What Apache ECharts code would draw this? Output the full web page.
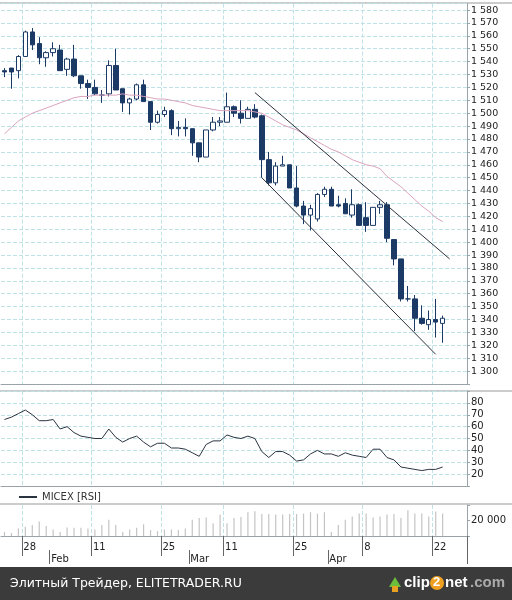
<!DOCTYPE html>
<html><head><meta charset="utf-8">
<script src="https://cdn.jsdelivr.net/npm/echarts@6/dist/echarts.min.js"></script>
<style>html,body{margin:0;padding:0;background:#fff}#c{width:512px;height:600px}</style>
</head><body><div id="c"></div>
<script>
const dayLabels = ['','','','28','','','','','','','','','','11','','','','','','','','','','25','','','','','','','','','11','','','','','','','','','','25','','','','','','','','','','8','','','','','','','','','','22','','','',''];
const monthLabels = ['','','','','','','','Feb','','','','','','','','','','','','','','','','','','','','Mar','','','','','','','','','','','','','','','','','','','','Apr','','','','','','','','','','','','','','','','','','',''];
const openP  = [1533,1535,1533,1544,1563,1554,1543,1547,1549,1534,1542,1529,1523,1520,1514,1515,1537,1519,1508,1511,1522,1509,1493,1499,1502,1488,1489,1488,1477,1466,1487,1493,1493,1505,1500,1496,1503,1498,1464,1446,1459,1460,1442,1428,1421,1418,1437,1441,1429,1430,1421,1429,1419,1413,1427,1429,1402,1387,1356,1356,1341,1336,1340,1337];
const closeP = [1532,1532,1544,1563,1553,1543,1547,1550,1533,1542,1529,1523,1520,1515,1514,1537,1518,1508,1511,1522,1509,1493,1499,1502,1488,1489,1488,1477,1466,1487,1493,1494,1505,1500,1496,1503,1497,1464,1446,1459,1460,1442,1428,1421,1426,1437,1441,1428,1428,1422,1429,1413,1413,1427,1429,1403,1387,1356,1356,1341,1337,1340,1338,1341];
const lowP   = [1528,1519,1527,1544,1549,1538,1536,1544,1533,1529,1528,1519,1511,1514,1508,1513,1518,1501,1499,1510,1509,1487,1492,1497,1483,1482,1482,1467,1462,1466,1486,1490,1493,1497,1492,1496,1496,1450,1444,1444,1459,1442,1427,1414,1409,1416,1435,1428,1427,1422,1419,1413,1408,1413,1422,1400,1382,1354,1354,1331,1336,1332,1326,1322];
const highP  = [1535,1535,1545,1564,1566,1559,1548,1555,1553,1543,1553,1529,1526,1526,1518,1541,1550,1519,1512,1523,1526,1509,1502,1505,1503,1494,1496,1488,1477,1487,1497,1497,1516,1506,1510,1505,1507,1499,1470,1462,1467,1460,1459,1432,1429,1438,1443,1443,1436,1434,1441,1430,1431,1427,1432,1431,1402,1387,1366,1359,1351,1347,1356,1343];
const maP = [1484,1489,1494,1497,1500,1502,1504,1506,1508,1510,1512,1513,1513,1514,1514,1514,1514,1515,1514,1514,1513,1512,1511,1511,1510,1509,1508,1506,1505,1504,1503,1502,1502,1502,1502,1502,1501,1500,1497,1494,1491,1489,1487,1484,1481,1478,1475,1472,1470,1467,1464,1462,1460,1459,1457,1451,1447,1443,1438,1433,1428,1424,1419,1416];
const rsi = [66,68,71,74,70,65,65,66,58,60,55,52,51,50,50,58,51,47,50,52,47,43,46,46,42,42,41,38,35,45,48,48,53,51,50,52,50,39,34,39,39,36,31,32,37,40,37,37,35,38,36,35,34,41,41,34,32,26,25,24,23,24,24,26];
const volume = [5300,4000,9800,12000,14200,18700,12900,8400,5300,11100,10700,10700,9800,8400,14200,20900,14200,5300,8400,10700,15100,7600,6200,8400,8400,7600,9800,20900,23100,24000,16400,27600,16400,23100,24500,30700,32000,28400,28400,27600,27600,28400,28400,28900,30700,28900,30700,5300,14200,20900,25300,28900,28900,24000,25300,27600,28400,23100,33300,28900,28900,25300,31500,28900];
const upperChannel = [[36,1516],[64,1387]];
const lowerChannel = [[37,1450],[62,1313]];
const cats = dayLabels.map((d,i)=>String(i));

const gridC = '#bfe2e6', border = '#9aa3a8', navy = '#1c3a66';
const vInt = (i)=> dayLabels[i] !== '';
const fmtSp = v => String(v).replace(/\B(?=(\d{3})+(?!\d))/g,' ');
const baseX = (gi, extra) => Object.assign({
  type:'category', data:cats, gridIndex:gi, boundaryGap:true,
  axisLine:{show:true,lineStyle:{color:border}}, axisTick:{show:false}, axisLabel:{show:false},
  splitLine:{show:true, interval:(i)=>vInt(i), lineStyle:{color:gridC,type:'dashed'}}
}, extra||{});
const chart = echarts.init(document.getElementById('c'), null, {renderer:'canvas'});
chart.setOption({
  animation:false,
  textStyle:{fontFamily:'Verdana, DejaVu Sans, sans-serif'},
  grid:[
    {left:1,right:45,top:3.6,bottom:600-384},
    {left:1,right:45,top:391,bottom:600-486},
    {left:1,right:45,top:505,bottom:600-536}
  ],
  legend:{data:['MICEX [RSI]'],left:14,top:487,itemWidth:18,itemHeight:2,icon:'rect',
    textStyle:{fontSize:10,color:'#333'}},
  xAxis:[
    baseX(0,{axisLine:{show:true,lineStyle:{color:border}}}),
    baseX(1),
    baseX(2,{axisTick:{show:true,length:20,interval:(i)=>vInt(i),lineStyle:{color:'#666'}},
      axisLabel:{show:true,interval:0,formatter:(v,i)=>dayLabels[i],align:'left',margin:6,fontSize:10,color:'#222',padding:[0,0,0,-2]}}),
    {type:'category',data:cats,gridIndex:2,position:'bottom',offset:14,boundaryGap:true,
      axisLine:{show:false},splitLine:{show:false},
      axisTick:{show:true,length:14,interval:(i)=>monthLabels[i]!=='',lineStyle:{color:'#666'}},
      axisLabel:{show:true,interval:0,formatter:(v,i)=>monthLabels[i],align:'left',margin:4,fontSize:10,color:'#222',padding:[0,0,0,-2]}}
  ],
  yAxis:[
    {type:'value',gridIndex:0,position:'right',min:1290,max:1585,interval:10,
      axisLine:{show:true,lineStyle:{color:border}},axisTick:{show:true,length:3,lineStyle:{color:border}},
      axisLabel:{fontSize:9.5,color:'#222',margin:4,formatter:v=>v<1300?'':fmtSp(v)},
      splitLine:{lineStyle:{color:gridC,type:'dashed'}}},
    {type:'value',gridIndex:1,position:'right',min:10,max:90,interval:10,
      axisLine:{show:true,lineStyle:{color:border}},axisTick:{show:true,length:3,lineStyle:{color:border}},
      axisLabel:{fontSize:10,color:'#222',margin:4,formatter:v=>(v<20||v>80)?'':v},
      splitLine:{lineStyle:{color:gridC,type:'dashed'}}},
    {type:'value',gridIndex:2,position:'right',min:0,max:40000,interval:20000,
      axisLine:{show:true,lineStyle:{color:border}},axisTick:{show:true,length:3,lineStyle:{color:border}},
      axisLabel:{fontSize:10,color:'#222',margin:4,formatter:v=>v===20000?fmtSp(v):''},
      splitLine:{show:false}}
  ],
  series:[
    {type:'candlestick',xAxisIndex:0,yAxisIndex:0,barWidth:5,
      data:openP.map((o,i)=>[o,closeP[i],lowP[i],highP[i]]),
      itemStyle:{color:'#fff',color0:navy,borderColor:navy,borderColor0:navy,borderWidth:1}},
    {type:'line',name:'MA',xAxisIndex:0,yAxisIndex:0,data:maP,showSymbol:false,lineStyle:{color:'#d9a3bd',width:1}},
    {type:'line',xAxisIndex:0,yAxisIndex:0,data:upperChannel,showSymbol:false,lineStyle:{color:'#2a2f3a',width:1}},
    {type:'line',xAxisIndex:0,yAxisIndex:0,data:lowerChannel,showSymbol:false,lineStyle:{color:'#2a2f3a',width:1}},
    {type:'line',name:'MICEX [RSI]',xAxisIndex:1,yAxisIndex:1,data:rsi,showSymbol:false,color:'#2a3340',lineStyle:{color:'#2a3340',width:1}},
    {type:'bar',xAxisIndex:2,yAxisIndex:2,data:volume,barWidth:1.2,itemStyle:{color:'#c4c4c4'}}
  ],
  graphic:[
    {type:'line',shape:{x1:0,y1:3,x2:512,y2:3},style:{stroke:'#999',lineWidth:1}},
    {type:'line',shape:{x1:0,y1:391,x2:512,y2:391},style:{stroke:'#999',lineWidth:1}},
    {type:'line',shape:{x1:0,y1:504,x2:512,y2:504},style:{stroke:'#999',lineWidth:1}},
    {type:'rect',shape:{x:0,y:567,width:512,height:33},style:{fill:'#3b3b3b'}},
    {type:'text',x:10,y:577,style:{text:'Элитный Трейдер, ELITETRADER.RU',fill:'#fff',fontSize:12.5,fontFamily:'DejaVu Sans'}},
    {type:'polygon',shape:{points:[[389,587],[395,577],[401,587]]},style:{fill:'#6cbf3a'}},
    {type:'rect',shape:{x:392,y:586,width:6,height:6},style:{fill:'#e8a020'}},
    {type:'text',x:404,y:575,style:{text:'clip',fill:'#fff',fontSize:15,fontWeight:'bold',fontFamily:'Liberation Sans'}},
    {type:'circle',shape:{cx:437,cy:583,r:7},style:{fill:'#f0a020'}},
    {type:'text',x:433,y:576,style:{text:'2',fill:'#fff',fontSize:13,fontWeight:'bold',fontFamily:'Liberation Sans'}},
    {type:'text',x:445,y:575,style:{text:'net',fill:'#fff',fontSize:15,fontWeight:'bold',fontFamily:'Liberation Sans'}},
    {type:'text',x:470,y:575,style:{text:'.com',fill:'#aaa',fontSize:15,fontWeight:'bold',fontFamily:'Liberation Sans'}}
  ]
});
</script></body></html>
